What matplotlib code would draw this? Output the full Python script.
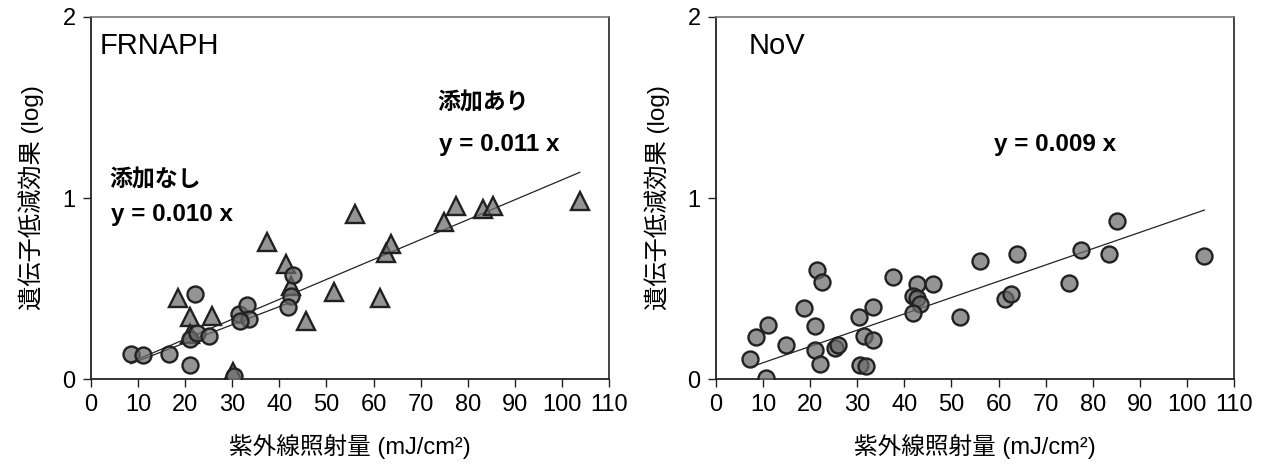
import numpy as np
import matplotlib
matplotlib.use("Agg")
import matplotlib.pyplot as plt

plt.rcParams['font.family'] = ['Liberation Sans', 'Noto Sans CJK JP', 'DejaVu Sans']

# ── FRNAPH: 添加なし (circles) ──
frn_none_x = [8.4, 11.0, 16.6, 21.0, 22.0, 21.0, 22.5, 25.1, 30.3, 31.4, 33.1, 33.5, 31.6, 43.0, 42.4, 41.9]
frn_none_y = [0.14, 0.135, 0.14, 0.08, 0.47, 0.22, 0.255, 0.24, 0.015, 0.357, 0.41, 0.33, 0.32, 0.575, 0.46, 0.40]

# ── FRNAPH: 添加あり (triangles) ──
frn_add_x = [18.5, 21.0, 25.6, 21.0, 30.2, 37.4, 41.5, 42.4, 51.6, 45.7, 56.0, 61.3, 62.6, 63.7,
             74.9, 77.6, 83.3, 85.3, 103.8]
frn_add_y = [0.45, 0.34, 0.35, 0.25, 0.04, 0.755, 0.635, 0.515, 0.48, 0.32, 0.91, 0.45, 0.695, 0.745,
             0.87, 0.955, 0.94, 0.957, 0.985]

# ── NoV (circles) ──
nov_x = [7.3, 8.4, 11.1, 10.6, 14.8, 18.6, 21.4, 22.5, 21.1, 21.1, 22.1, 25.2, 26.0, 30.3, 33.3,
         31.4, 33.4, 30.5, 31.9, 37.5, 42.6, 41.9, 42.6, 43.4, 41.9, 46.1, 51.8, 56.1, 61.4, 62.7,
         64.0, 74.9, 77.6, 83.5, 85.2, 103.7]
nov_y = [0.113, 0.233, 0.298, 0.006, 0.19, 0.394, 0.60, 0.538, 0.292, 0.159, 0.085, 0.172, 0.187,
         0.344, 0.397, 0.237, 0.218, 0.079, 0.074, 0.564, 0.527, 0.458, 0.449, 0.412, 0.366, 0.525,
         0.342, 0.651, 0.444, 0.468, 0.689, 0.532, 0.713, 0.689, 0.871, 0.680]

# slopes of the fitted lines through the origin
slope_none = 0.010
slope_add = 0.011
slope_nov = 0.009

xticks = list(range(0, 111, 10))
yticks = [0, 1, 2]

face = (0.42, 0.42, 0.42, 0.72)
edge = (0.13, 0.13, 0.13)

fig = plt.figure(figsize=(12.65, 4.67), dpi=100)
ax1 = fig.add_axes([0.0719, 0.1884, 0.4095, 0.7752])
ax2 = fig.add_axes([0.566, 0.1884, 0.4095, 0.7752])


def style(ax):
    ax.set_xlim(0, 110)
    ax.set_ylim(0, 2)
    ax.set_xticks(xticks)
    ax.set_yticks(yticks)
    ax.tick_params(direction='out', length=6, width=1, labelsize=17, pad=5, color='#222222')
    for s in ['left', 'bottom']:
        ax.spines[s].set_linewidth(1.3)
        ax.spines[s].set_color('#222222')
    for s in ['top', 'right']:
        ax.spines[s].set_linewidth(1.2)
    ax.spines['top'].set_color('#777777')
    ax.spines['right'].set_color('#222222')
    ax.set_xlabel('紫外線照射量 (mJ/cm²)', fontsize=17, labelpad=13)
    ax.set_ylabel('遺伝子低減効果 (log)', fontsize=17.5, labelpad=13)


# left panel
x0 = min(frn_none_x)
xs = np.array([x0, max(frn_none_x)])
ax1.plot(xs, slope_none * xs, color='#222222', lw=0.9, zorder=2)
xs = np.array([x0, max(frn_add_x)])
ax1.plot(xs, slope_add * xs, color='#222222', lw=0.9, zorder=2)
ax1.plot(frn_add_x, frn_add_y, '^', ms=12.5, mfc=face, mec=edge, mew=1.7, zorder=3)
ax1.plot(frn_none_x, frn_none_y, 'o', ms=11.5, mfc=face, mec=edge, mew=1.7, zorder=3)
style(ax1)
ax1.text(1.9, 1.84, 'FRNAPH', fontsize=21, va='center')
ax1.text(73.5, 1.525, '添加あり', fontsize=16.5, fontweight='bold', va='center')
ax1.text(74.0, 1.293, 'y = 0.011 x', fontsize=17.5, fontweight='bold', va='center')
ax1.text(4.0, 1.10, '添加なし', fontsize=16.5, fontweight='bold', va='center')
ax1.text(4.3, 0.91, 'y = 0.010 x', fontsize=17.5, fontweight='bold', va='center')

# right panel
xs = np.array([min(nov_x), max(nov_x)])
ax2.plot(xs, slope_nov * xs, color='#222222', lw=0.9, zorder=2)
ax2.plot(nov_x, nov_y, 'o', ms=11.5, mfc=face, mec=edge, mew=1.7, zorder=3)
style(ax2)
ax2.text(7.0, 1.84, 'NoV', fontsize=21, va='center')
ax2.text(59.0, 1.293, 'y = 0.009 x', fontsize=17.5, fontweight='bold', va='center')

fig.savefig('out.png', dpi=100)
